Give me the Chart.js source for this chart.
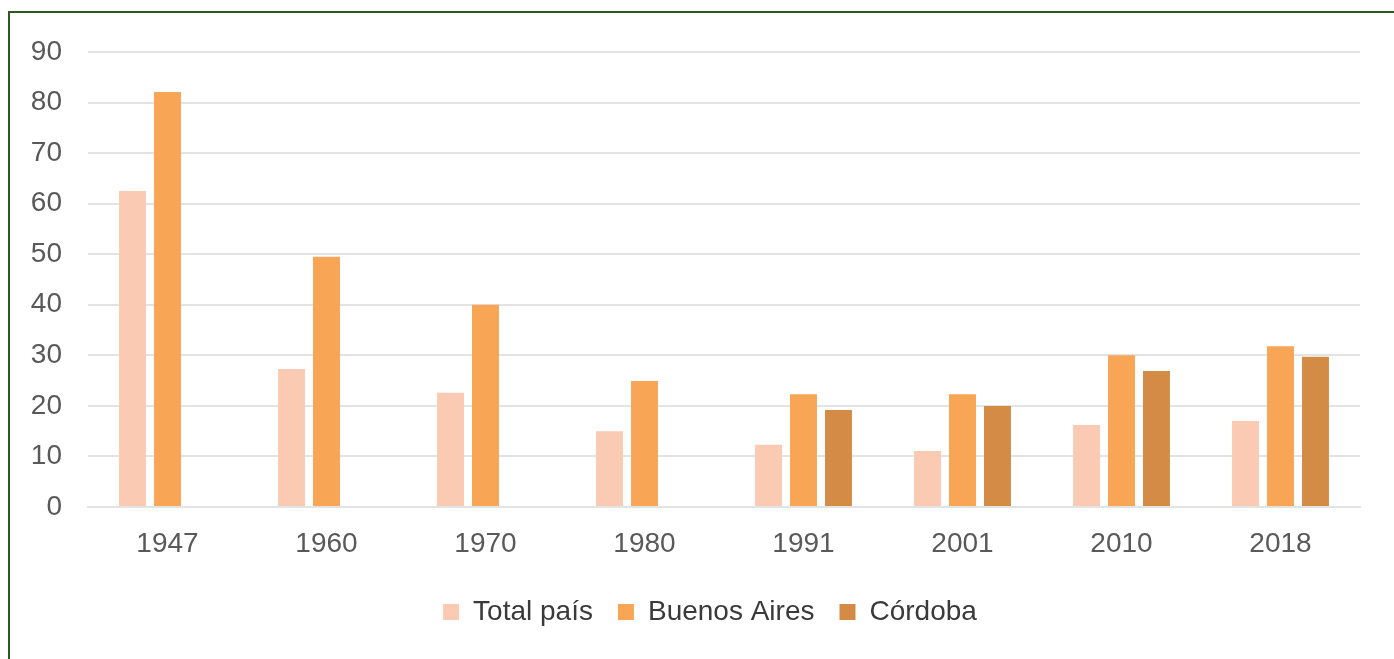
<!DOCTYPE html>
<html>
<head>
<meta charset="utf-8">
<script src="https://cdn.jsdelivr.net/npm/chart.js@4/dist/chart.umd.min.js"></script>
<style>
  html, body { margin: 0; padding: 0; background: #fff; overflow: hidden; }
  .frame { position: absolute; left: 8px; top: 11px; width: 1500px; height: 800px;
           border-top: 2px solid #2d5a1e; border-left: 2px solid #2d5a1e; }
  .wrap { position: absolute; left: 0; top: 0; width: 1394px; height: 659px; }
</style>
</head>
<body>
<div class="frame"></div>
<div class="wrap"><canvas id="chart"></canvas></div>
<script>
/* data */
const years       = ['1947', '1960', '1970', '1980', '1991', '2001', '2010', '2018'];
const totalPais   = [62.5, 27.3, 22.6, 15.0, 12.3, 11.1, 16.2, 17.0];
const buenosAires = [82.1, 49.5, 40.0, 24.9, 22.3, 22.3, 30.0, 31.8];
const cordoba     = [null, null, null, null, 19.2, 20.0, 26.9, 29.7];
const yTicks      = [0, 10, 20, 30, 40, 50, 60, 70, 80, 90];

const font = { family: '"Liberation Sans", Arial, sans-serif', size: 28 };

/* legend in the reference sits a bit right of the canvas centre */
const legendShift = {
  id: 'legendShift',
  afterLayout(chart) {
    chart.legend.left += 30;
    chart.legend.right += 30;
  }
};

new Chart(document.getElementById('chart'), {
  type: 'bar',
  data: {
    labels: years,
    datasets: [
      { label: 'Total país',   data: totalPais,   backgroundColor: '#facbb2' },
      { label: 'Buenos Aires', data: buenosAires, backgroundColor: '#f8a555' },
      { label: 'Córdoba',      data: cordoba,     backgroundColor: '#d48b45' }
    ]
  },
  plugins: [legendShift],
  options: {
    responsive: true,
    maintainAspectRatio: false,
    animation: false,
    layout: { padding: { left: 0, right: 34, top: 52, bottom: 23 } },
    datasets: { bar: { categoryPercentage: 0.66, barPercentage: 0.77 } },
    plugins: {
      tooltip: { enabled: false },
      legend: {
        position: 'bottom',
        labels: { font, color: '#3a3a3a', boxWidth: 16, boxHeight: 16, padding: 25 }
      }
    },
    scales: {
      x: {
        grid: { display: false, drawTicks: false },
        border: { display: true, color: '#e3e3e3', width: 2 },
        ticks: { font, color: '#595959', padding: 20, maxRotation: 0 },
        afterFit: s => { s.height = 66; }
      },
      y: {
        min: 0, max: 90,
        afterBuildTicks: s => { s.ticks = yTicks.map(v => ({ value: v })); },
        grid: { color: '#e3e3e3', lineWidth: 2, drawTicks: false },
        border: { display: false },
        ticks: { font, color: '#595959', padding: 26 },
        afterFit: s => { s.width = 88; }
      }
    }
  }
});
</script>
</body>
</html>
